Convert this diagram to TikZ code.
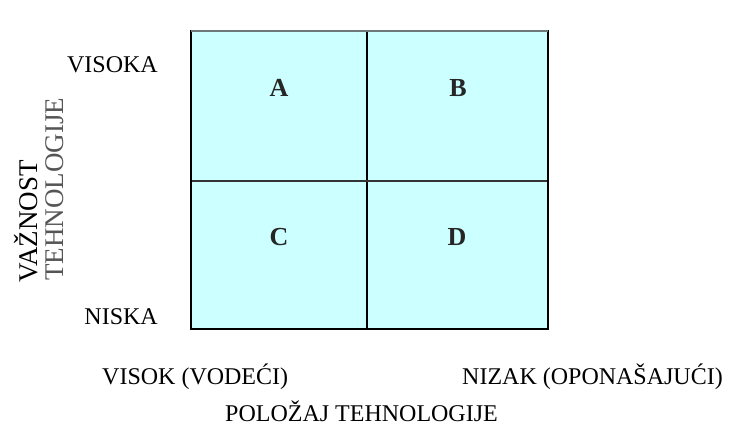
\documentclass[tikz,border=0pt]{standalone}
\usepackage{fontspec}
\setmainfont{Liberation Serif}
\definecolor{cellcyan}{RGB}{204,255,255}
\definecolor{toplinegray}{RGB}{110,120,120}
\definecolor{subgray}{RGB}{85,85,85}
\tikzset{
  lbl/.style={inner sep=0pt, font=\fontsize{24}{28}\selectfont, text=black},
  axislbl/.style={inner sep=0pt, font=\fontsize{27}{30}\selectfont, rotate=90, anchor=base west},
  cell/.style={inner sep=0pt, font=\fontsize{26}{30}\selectfont\bfseries, text=black!85}
}
\begin{document}
\begin{tikzpicture}[x=1pt,y=1pt]
\useasboundingbox (0,0) rectangle (729,435);
% grid
\fill[cellcyan] (191,106) rectangle (548,404);
\draw[black, line width=1.4pt] (367,106) -- (367,404);
\draw[black!80, line width=1.2pt] (191,254) -- (548,254);
\draw[black, line width=1.6pt] (191,106) rectangle (548,404);
\draw[toplinegray, line width=2.6pt] (191,404) -- (548,404);
% cell letters
\node[cell] (A) at (279,347) {A};
\node[cell] (B) at (458,347) {B};
\node[cell] (C) at (279,198) {C};
\node[cell] (D) at (457,198) {D};
% vertical axis labels
\node[lbl, anchor=base east] (visoka) at (158,362) {VISOKA};
\node[lbl, anchor=base east] (niska) at (158,110) {NISKA};
\node[axislbl] (vaznost) at (37,152) {VAŽNOST};
\node[axislbl, text=subgray] (tehn) at (63,154) {TEHNOLOGIJE};
% horizontal axis labels
\node[lbl, anchor=base west] (visok) at (102,50) {VISOK (VODEĆI)};
\node[lbl, anchor=base west] (nizak) at (462,50) {NIZAK (OPONAŠAJUĆI)};
\node[lbl, anchor=base west] (polozaj) at (225,13) {POLOŽAJ TEHNOLOGIJE};
\end{tikzpicture}
\end{document}
